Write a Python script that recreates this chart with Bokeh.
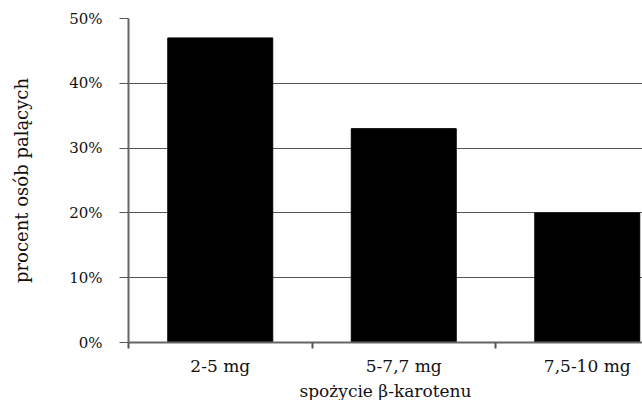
from bokeh.plotting import figure
from bokeh.models import Range1d, FixedTicker, NumeralTickFormatter, Title
from bokeh.embed import file_html
from bokeh.resources import INLINE

categories = ["2-5 mg", "5-7,7 mg", "7,5-10 mg"]
shares = [0.47, 0.33, 0.20]
y_ticks = [0.0, 0.1, 0.2, 0.3, 0.4, 0.5]
x_title = "spożycie β-karotenu"
y_title = "procent osób palących"

centers = [i + 0.5 for i in range(len(categories))]
bounds = [float(i) for i in range(len(categories) + 1)]

FONT = "DejaVu Serif"

p = figure(width=642, height=400, output_backend="svg", toolbar_location=None,
           x_range=Range1d(0, 2.801), y_range=Range1d(0, 0.5),
           min_border_left=128, min_border_right=0, min_border_top=18,
           min_border_bottom=57)
p.outline_line_color = None
p.background_fill_color = "white"
p.border_fill_color = "white"

p.vbar(x=centers, top=shares, width=0.572, fill_color="black", line_color="black")

# x axis: category names at centers, tick marks at category boundaries
xa = p.xaxis[0]
xa.ticker = FixedTicker(ticks=centers, minor_ticks=bounds)
xa.major_label_overrides = {c: lab for c, lab in zip(centers, categories)}
xa.major_tick_line_color = None
xa.major_tick_out = 0
xa.major_tick_in = 0
xa.minor_tick_out = 6
xa.minor_tick_in = 0
xa.minor_tick_line_color = "#555555"
xa.minor_tick_line_width = 2
xa.axis_line_color = "#666666"
xa.axis_line_width = 2
xa.major_label_text_font = FONT
xa.major_label_text_font_size = "17px"
xa.major_label_text_color = "#111111"
xa.major_label_standoff = 7

ya = p.yaxis[0]
ya.ticker = FixedTicker(ticks=y_ticks, minor_ticks=[])
ya.formatter = NumeralTickFormatter(format="0%")
ya.major_tick_out = 9
ya.major_tick_in = 0
ya.major_tick_line_color = "#555555"
ya.major_tick_line_width = 1
ya.axis_line_color = "#666666"
ya.axis_line_width = 2
ya.major_label_text_font = FONT
ya.major_label_text_font_size = "15px"
ya.major_label_text_color = "#111111"
ya.major_label_standoff = 17
ya.axis_label = y_title
ya.axis_label_text_font = FONT
ya.axis_label_text_font_size = "18px"
ya.axis_label_text_font_style = "normal"
ya.axis_label_text_color = "#111111"
ya.axis_label_standoff = 34

p.xgrid.grid_line_color = None
p.ygrid.ticker = FixedTicker(ticks=y_ticks)
p.ygrid.grid_line_color = "#555555"
p.ygrid.grid_line_width = 1

xt = Title(text=x_title, align="center", offset=21, standoff=0,
           text_font=FONT, text_font_size="17px", text_font_style="normal",
           text_color="#111111")
p.add_layout(xt, "below")

open("out.html", "w").write(file_html(p, INLINE))
